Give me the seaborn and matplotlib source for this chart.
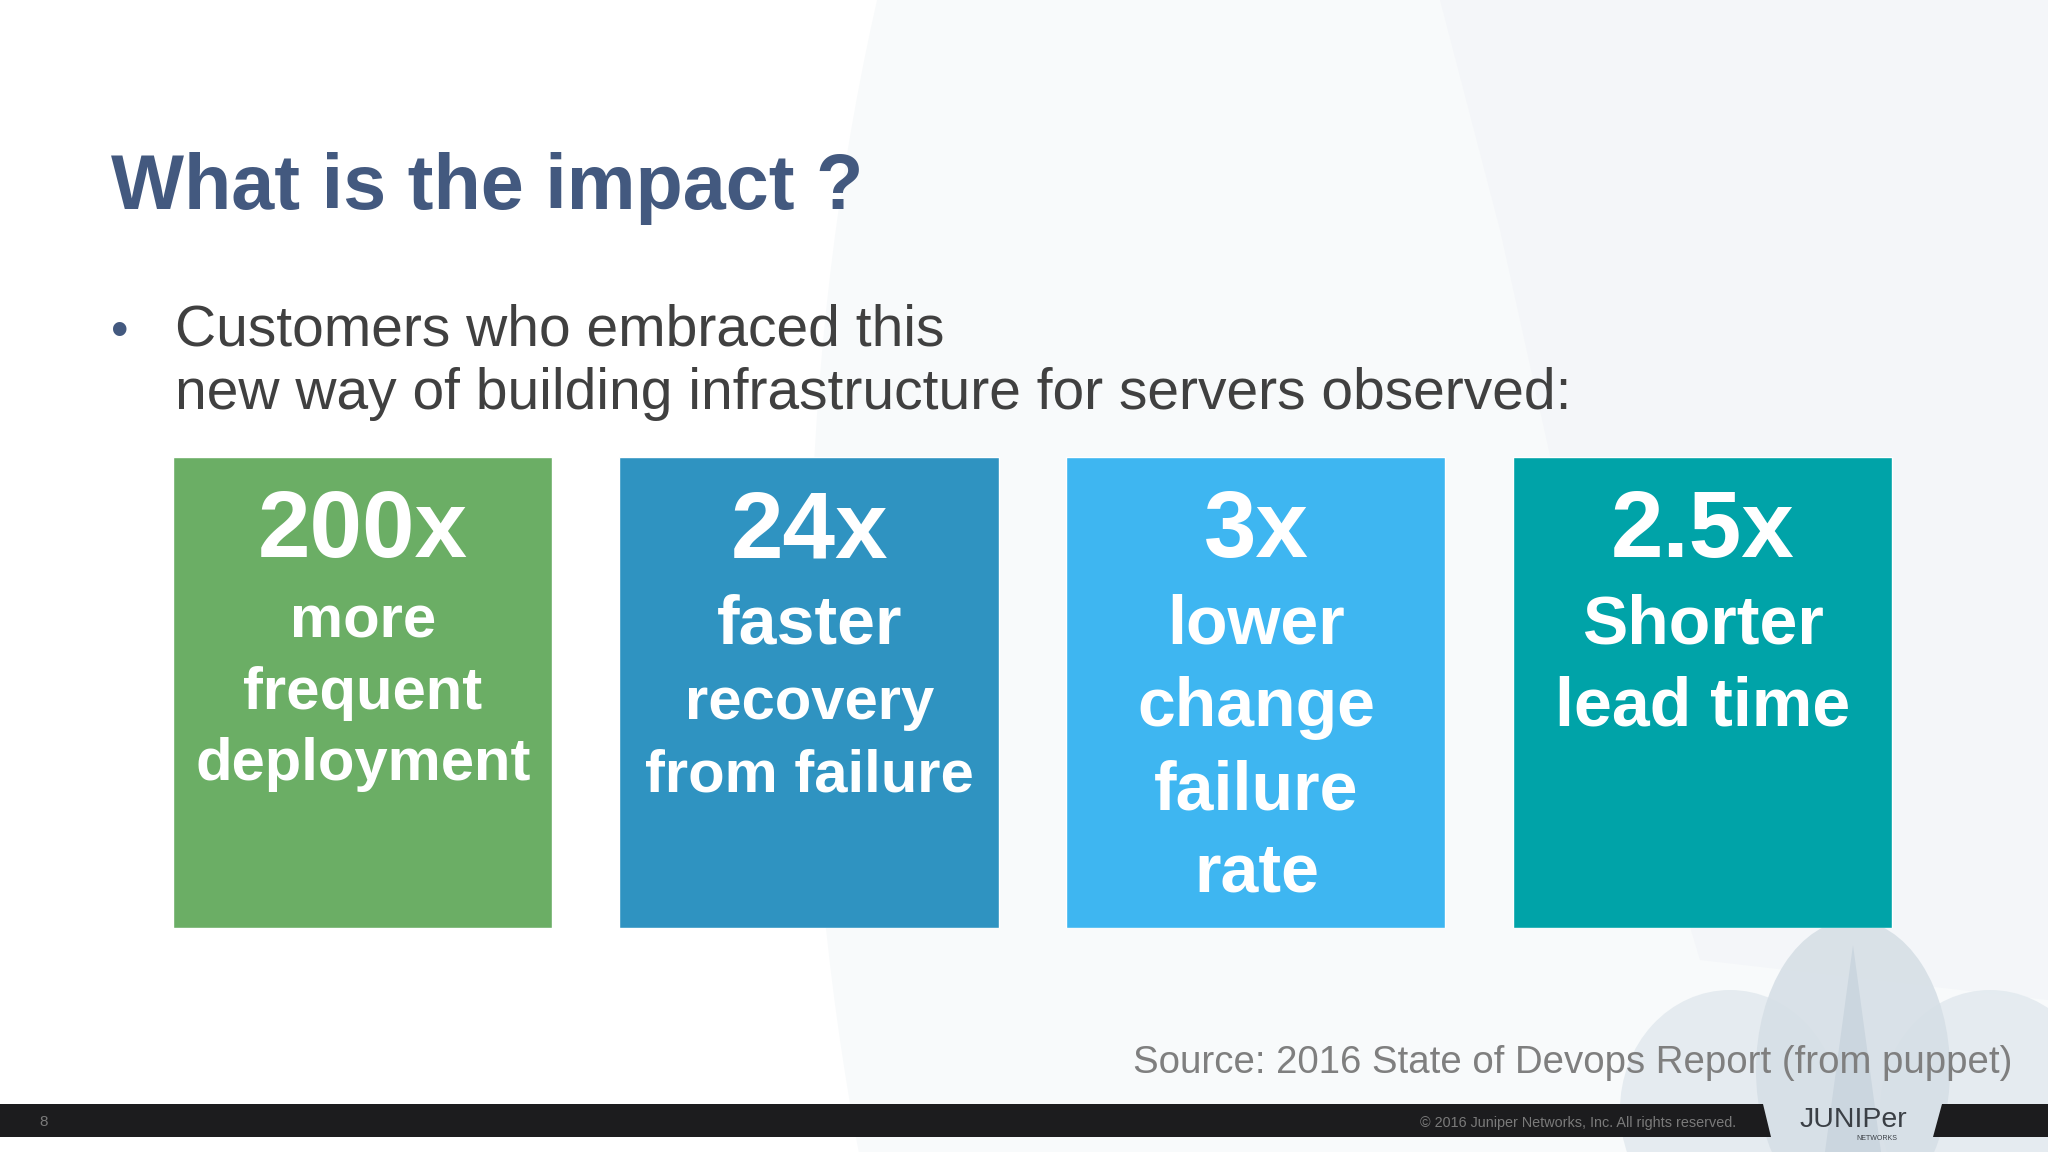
import matplotlib
matplotlib.use("Agg")
import matplotlib.pyplot as plt
from matplotlib.patches import Ellipse, Polygon, Rectangle
import pandas as pd
import seaborn as sns

# ---- data ----
metrics = ["200x", "24x", "3x", "2.5x"]
box_heights = [1, 1, 1, 1]
box_colors = ["#6BAE65", "#2F93C1", "#3EB6F1", "#00A3A8"]
descriptions = [
    ["more", "frequent", "deployment"],
    ["faster", "recovery", "from failure"],
    ["lower", "change", "failure", "rate"],
    ["Shorter", "lead time"],
]
title = "What is the impact ?"
bullet_lines = ["Customers who embraced this",
                "new way of building infrastructure for servers observed:"]
source = "Source: 2016 State of Devops Report (from puppet)"
copyright_text = "© 2016 Juniper Networks, Inc. All rights reserved."
page_number = "8"

# ---- layout (pixels) ----
W, H = 2048, 1152
desc_layout = [
    [(638, 43), (709, 43), (780, 43)],
    [(644, 49), (719, 43), (791, 43)],
    [(644, 49), (726, 49), (809, 49), (891, 49)],
    [(644, 49), (726, 49)],
]

sns.set_theme(style="white")
plt.rcParams["font.family"] = ["Liberation Sans", "DejaVu Sans"]

fig = plt.figure(figsize=(W / 100, H / 100), dpi=100, facecolor="white")

# full-slide backdrop in pixel coordinates
bg = fig.add_axes([0, 0, 1, 1], zorder=0)
bg.set_xlim(0, W)
bg.set_ylim(H, 0)
bg.axis("off")
bg.add_patch(Ellipse((1560, 620), 1500, 3000, fc="#F8FAFB", ec="none"))
bg.add_patch(Polygon([(1440, 0), (1500, 230), (1551, 460), (1640, 760), (1700, 960),
                      (W, 1000), (W, 0)], fc="#F4F6F9", ec="none"))
bg.add_patch(Ellipse((1730, 1110), 220, 240, fc="#E3EAEF", ec="none", alpha=.9))
bg.add_patch(Ellipse((1990, 1110), 220, 240, fc="#E3EAEF", ec="none", alpha=.9))
bg.add_patch(Ellipse((1853, 1070), 194, 300, fc="#D6DFE6", ec="none", alpha=.9))
bg.add_patch(Polygon([(1853, 945), (1825, 1152), (1881, 1152)], fc="#CBD6DF", ec="none"))
bg.add_patch(Rectangle((0, 1104), 1762, 33, fc="#1C1C1E", ec="none"))
bg.add_patch(Polygon([(1757, 1104), (1763, 1104), (1771, 1137), (1757, 1137)], fc="#1C1C1E", ec="none"))
bg.add_patch(Polygon([(1942, 1104), (W, 1104), (W, 1137), (1933, 1137)], fc="#1C1C1E", ec="none"))

# the four boxes, drawn by seaborn
PITCH = 446.7
ax = fig.add_axes([139 / W, 1 - 928 / H, 4 * PITCH / W, 471 / H], zorder=1)
ax.patch.set_alpha(0)
df = pd.DataFrame({"metric": metrics, "height": box_heights})
sns.barplot(data=df, x="metric", y="height", hue="metric", order=metrics, hue_order=metrics,
            palette=box_colors, width=0.849, dodge=False, legend=False, saturation=1, ax=ax)
ax.set_xlim(-0.5, 3.5)
ax.set_ylim(0, 1)
ax.axis("off")

# text layer in pixel coordinates
tx = fig.add_axes([0, 0, 1, 1], zorder=2)
tx.set_xlim(0, W)
tx.set_ylim(H, 0)
tx.axis("off")
tx.patch.set_alpha(0)

tx.text(111, 209, title, fontsize=55.7, fontweight="bold", color="#43597F", va="baseline")
tx.text(111, 346, "•", fontsize=36, color="#43597F", va="baseline")
tx.text(175, 345, bullet_lines[0], fontsize=41, color="#404040", va="baseline")
tx.text(175, 409, bullet_lines[1], fontsize=41, color="#404040", va="baseline")

for i, m in enumerate(metrics):
    cx = 363 + i * PITCH
    tx.text(cx, 557, m, fontsize=68, fontweight="bold", color="white", ha="center", va="baseline")
    for line, (y, size) in zip(descriptions[i], desc_layout[i]):
        tx.text(cx, y, line, fontsize=size, fontweight="bold", color="white", ha="center", va="baseline")

tx.text(2012, 1073, source, fontsize=27.6, color="#7F7F7F", ha="right", va="baseline")
tx.text(1736, 1127, copyright_text, fontsize=10.4, color="#7A7A7A", ha="right", va="baseline")
tx.text(44, 1126, page_number, fontsize=11, color="#7A7A7A", ha="center", va="baseline")
tx.text(1853, 1127, "JUNIPer", fontsize=20.5, color="#3A3F45", ha="center", va="baseline")
tx.text(1877, 1140, "NETWORKS", fontsize=5, color="#3A3F45", ha="center", va="baseline")

fig.savefig("out.png", dpi=100)
